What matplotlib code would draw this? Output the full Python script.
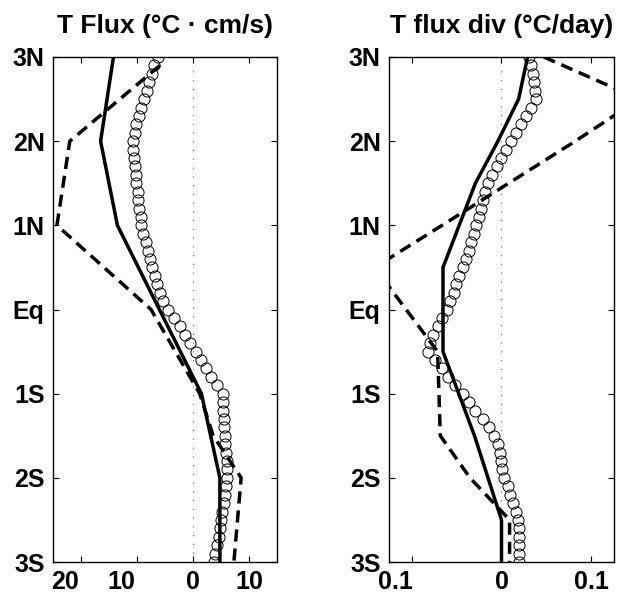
import matplotlib
matplotlib.use("Agg")
import matplotlib.pyplot as plt
import matplotlib.transforms as mtransforms
import numpy as np

plt.rcParams['font.family'] = ['Liberation Sans', 'DejaVu Sans']
plt.rcParams['font.weight'] = 'bold'

# ---------------- data ----------------
lat_ticks = [-3, -2, -1, 0, 1, 2, 3]
lat_labels = ['3S', '2S', '1S', 'Eq', '1N', '2N', '3N']

# Left panel: T flux (plotted position; labels show magnitude)
flux_ticks = [-20, -10, 0, 10]
flux_ticklabels = ['20', '10', '0', '10']

flux_solid_lat = [3, 2, 1, -1, -2, -3]
flux_solid = [-14.2, -16.5, -13.5, 1.5, 4.8, 4.8]

flux_dash_lat = [2.9, 2, 1, 0, -1, -1.5, -2, -3]
flux_dash = [-5.9, -22.0, -24.3, -7.5, 1.2, 3.6, 8.6, 7.3]

circ_lat = [round(3 - 0.1 * i, 1) for i in range(61)]
flux_circ = [-6.3, -7.0, -7.4, -7.8, -8.3, -8.75, -9.2, -9.6, -10.1, -10.4,
             -10.65, -10.65, -10.5, -10.4, -10.2, -10.1, -9.9, -9.75, -9.6, -9.35,
             -9.2, -8.9, -8.45, -8.1, -7.7, -7.3, -6.8, -6.4, -5.9, -5.3,
             -4.4, -3.4, -2.3, -1.4, -0.5, 0.5, 1.4, 2.3, 3.2, 4.2,
             5.3, 5.3, 5.4, 5.5, 5.5, 5.7, 5.8, 5.9, 6.0, 6.0,
             6.0, 5.9, 5.7, 5.5, 5.2, 5.0, 4.8, 4.6, 4.3, 4.0, 3.8]

# Right panel: T flux divergence
div_ticks = [-0.1, 0, 0.1]
div_ticklabels = ['0.1', '0', '0.1']

div_solid_lat = [3, 2.5, 2, 1.5, 1, 0.5, -0.5, -1.5, -2.5, -3]
div_solid = [0.029, 0.019, -0.004, -0.029, -0.047, -0.065, -0.065, -0.030, 0.0, 0.0]

div_dash_lat = [3, 2.5, 2, 1.5, 1, 0.5, 0, -0.5, -1.5, -2, -2.5, -3]
div_dash = [0.047, 0.153, 0.082, 0.008, -0.066, -0.141, -0.106, -0.071,
            -0.068, -0.035, 0.009, 0.009]

div_circ = [0.031, 0.033, 0.035, 0.036, 0.037, 0.038, 0.033, 0.027, 0.022, 0.016,
            0.011, 0.005, 0.000, -0.005, -0.010, -0.015, -0.018, -0.021, -0.023, -0.025,
            -0.028, -0.031, -0.034, -0.036, -0.039, -0.043, -0.047, -0.050, -0.053, -0.057,
            -0.061, -0.066, -0.071, -0.076, -0.080, -0.082, -0.074, -0.066, -0.060, -0.052,
            -0.043, -0.036, -0.029, -0.021, -0.014, -0.008, -0.004, -0.002, 0.000, 0.001,
            0.003, 0.007, 0.010, 0.013, 0.016, 0.018, 0.019, 0.019, 0.019, 0.019, 0.019]

# ---------------- figure ----------------
W, H = 619, 595
fig = plt.figure(figsize=(W / 100, H / 100), dpi=100)

def px_axes(x0, x1, y0, y1):
    return fig.add_axes([x0 / W, 1 - y1 / H, (x1 - x0) / W, (y1 - y0) / H])

axL = px_axes(53, 277, 57, 562)
axR = px_axes(389, 614, 57, 562)

LW = 2.5
FS = 18
MS = 8.0

def style(ax, xlim, xticks, xlabels, title):
    ax.set_xlim(*xlim)
    ax.set_ylim(-3, 3)
    ax.set_xticks(xticks)
    ax.set_xticklabels(xlabels)
    ax.set_yticks(lat_ticks)
    ax.set_yticklabels(lat_labels)
    ax.tick_params(direction='in', top=True, right=True, length=4, width=0.8,
                   labelsize=FS, pad=6)
    shift = mtransforms.ScaledTranslation(-16 / 100, 0, fig.dpi_scale_trans)
    for v, lab in zip(xticks, ax.get_xticklabels()):
        lab.set_fontweight('bold')
        if v < 0:
            lab.set_transform(lab.get_transform() + shift)
    for lab in ax.get_yticklabels():
        lab.set_fontweight('bold')
    for s in ax.spines.values():
        s.set_linewidth(1.0)
    ax.axvline(0, color='0.3', lw=0.6, dashes=(1.5, 9), zorder=1)
    ax.set_title(title, fontsize=19, fontweight='bold', pad=17)

# left
axL.plot(flux_circ, circ_lat, 'o', ms=MS, mfc='none', mec='black', mew=0.7, zorder=2)
axL.plot(flux_dash, flux_dash_lat, color='black', lw=LW, dashes=(3.5, 2), zorder=3)
axL.plot(flux_solid, flux_solid_lat, color='black', lw=LW, zorder=4)
style(axL, (-25, 15), flux_ticks, flux_ticklabels, 'T Flux (°C · cm/s)')

# right
axR.plot(div_circ, circ_lat, 'o', ms=MS, mfc='none', mec='black', mew=0.7, zorder=2)
axR.plot(div_dash, div_dash_lat, color='black', lw=LW, dashes=(3.5, 2), zorder=3)
axR.plot(div_solid, div_solid_lat, color='black', lw=LW, zorder=4)
style(axR, (-0.125, 0.125), div_ticks, div_ticklabels, 'T flux div (°C/day)')

fig.savefig('out.png', dpi=100)
